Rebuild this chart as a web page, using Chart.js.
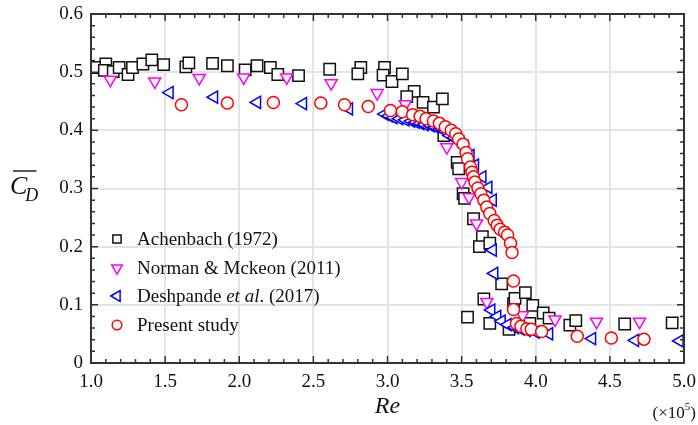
<!DOCTYPE html>
<html>
<head>
<meta charset="utf-8">
<script src="https://cdn.jsdelivr.net/npm/chart.js@4.4.0/dist/chart.umd.min.js"></script>
<style>
  body { margin: 0; background: #fff; }
</style>
</head>
<body>
<canvas id="cdChart" width="698" height="425"></canvas>
<script>
// series names (legend)
const seriesNames = ['Achenbach (1972)', 'Norman & Mckeon (2011)', 'Deshpande et al. (2017)', 'Present study'];

// Achenbach (1972)
const reAchenbach = [1.04, 1.10, 1.09, 1.15, 1.19, 1.25, 1.28, 1.35, 1.41, 1.49, 1.64, 1.66, 1.82, 1.92, 2.04, 2.12, 2.21, 2.26, 2.40,
    2.61, 2.82, 2.80, 2.98, 2.97, 3.03, 3.10, 3.18, 3.13, 3.24, 3.31, 3.37, 3.38, 3.47, 3.48, 3.51, 3.52, 3.58, 3.64, 3.62, 3.69,
    3.77, 3.54, 3.69, 3.65, 3.82, 3.85, 3.86, 3.93, 3.98, 4.05, 4.09, 3.96, 4.23, 4.27, 4.60, 4.92];
const cdAchenbach = [0.508, 0.514, 0.503, 0.501, 0.508, 0.496, 0.508, 0.514, 0.521, 0.513, 0.509, 0.516, 0.515, 0.511, 0.504, 0.511, 0.508, 0.496, 0.494,
    0.505, 0.508, 0.497, 0.508, 0.495, 0.484, 0.497, 0.467, 0.458, 0.448, 0.440, 0.454, 0.391, 0.345, 0.334, 0.291, 0.283, 0.248, 0.217, 0.200, 0.206,
    0.136, 0.079, 0.068, 0.110, 0.058, 0.102, 0.111, 0.121, 0.099, 0.086, 0.077, 0.068, 0.065, 0.073, 0.067, 0.069];

// Norman & Mckeon (2011)
const reNorman = [1.13, 1.43, 1.73, 2.03, 2.32, 2.62, 2.93, 3.12, 3.40, 3.50, 3.55, 3.60, 3.67, 3.91, 4.13, 4.41, 4.70];
const cdNorman = [0.487, 0.484, 0.490, 0.491, 0.491, 0.481, 0.464, 0.445, 0.371, 0.311, 0.285, 0.240, 0.105, 0.082, 0.075, 0.071, 0.071];

// Deshpande et al. (2017)
const reDeshpande = [1.53, 1.83, 2.12, 2.43, 2.74, 2.98, 3.01, 3.04, 3.08, 3.12, 3.16, 3.19, 3.22, 3.25, 3.29, 3.32, 3.36, 3.39, 3.42, 3.45,
    3.49, 3.52, 3.56, 3.59, 3.64, 3.68, 3.71, 3.71, 3.72, 3.70, 3.74, 3.77, 3.81, 3.86, 3.90, 3.94, 4.00, 4.09, 4.38, 4.67, 4.97];
const cdDeshpande = [0.465, 0.457, 0.448, 0.446, 0.437, 0.428, 0.425, 0.422, 0.420, 0.418, 0.416, 0.414, 0.412, 0.410, 0.408, 0.406, 0.403, 0.398, 0.391, 0.387,
    0.380, 0.372, 0.357, 0.340, 0.320, 0.302, 0.280, 0.194, 0.154, 0.091, 0.080, 0.072, 0.066, 0.061, 0.058, 0.056, 0.053, 0.050, 0.042, 0.039, 0.038];

// Present study
const rePresent = [1.61, 1.92, 2.23, 2.55, 2.71, 2.87, 3.02, 3.10, 3.17, 3.22, 3.26, 3.31, 3.35, 3.39, 3.43, 3.46, 3.48, 3.51, 3.53, 3.54,
    3.56, 3.57, 3.58, 3.59, 3.61, 3.63, 3.65, 3.67, 3.69, 3.72, 3.74, 3.76, 3.79, 3.81, 3.83, 3.84, 3.85, 3.85, 3.87, 3.90,
    3.94, 3.97, 4.04, 4.28, 4.51, 4.73];
const cdPresent = [0.444, 0.447, 0.448, 0.447, 0.444, 0.441, 0.434, 0.432, 0.427, 0.424, 0.420, 0.416, 0.412, 0.406, 0.400, 0.394, 0.385, 0.376, 0.362, 0.351,
    0.337, 0.328, 0.320, 0.311, 0.301, 0.291, 0.280, 0.268, 0.257, 0.245, 0.237, 0.230, 0.225, 0.220, 0.206, 0.190, 0.141, 0.092, 0.068, 0.063,
    0.059, 0.058, 0.054, 0.046, 0.043, 0.041];

// axis ticks
const xTicks = [1.0, 1.5, 2.0, 2.5, 3.0, 3.5, 4.0, 4.5, 5.0];
const yTicks = [0, 0.1, 0.2, 0.3, 0.4, 0.5, 0.6];

const toPoints = (xs, ys) => xs.map((v, i) => ({ x: v, y: ys[i] }));

const styles = [
    { color: '#111111', pointStyle: 'rect', radius: 8, rotation: 0, legendRadius: 5.8 },
    { color: '#ff00ff', pointStyle: 'triangle', radius: 7, rotation: 180, legendRadius: 6.2 },
    { color: '#0000ff', pointStyle: 'triangle', radius: 7, rotation: 270, legendRadius: 6.2 },
    { color: '#ff0000', pointStyle: 'circle', radius: 6, rotation: 0, legendRadius: 4.8 }
];

const serif = '"Liberation Serif", "Times New Roman", serif';

function drawMarker(ctx, st, r, x, y) {
    ctx.save();
    ctx.translate(x, y);
    ctx.rotate(st.rotation * Math.PI / 180);
    ctx.beginPath();
    if (st.pointStyle === 'rect') {
        const s = r * Math.SQRT1_2;
        ctx.rect(-s, -s, 2 * s, 2 * s);
    } else if (st.pointStyle === 'triangle') {
        ctx.moveTo(0, -r);
        ctx.lineTo(r * Math.sin(Math.PI * 2 / 3), r * 0.5);
        ctx.lineTo(-r * Math.sin(Math.PI * 2 / 3), r * 0.5);
        ctx.closePath();
    } else {
        ctx.arc(0, 0, r, 0, Math.PI * 2);
    }
    ctx.fillStyle = '#fff';
    ctx.fill();
    ctx.strokeStyle = st.color;
    ctx.lineWidth = 1.5;
    ctx.stroke();
    ctx.restore();
}

const frameAndLabels = {
    id: 'frameAndLabels',
    afterDraw(chart) {
        const { ctx, chartArea: a, scales: { x, y } } = chart;
        ctx.save();

        // inward ticks on all four sides
        ctx.strokeStyle = '#333';
        ctx.lineWidth = 1.5;
        ctx.beginPath();
        for (let i = 0; i <= 40; i++) {
            const px = x.getPixelForValue(1 + i * 0.1);
            const len = i % 5 === 0 ? 7 : 4;
            ctx.moveTo(px, a.bottom); ctx.lineTo(px, a.bottom - len);
            ctx.moveTo(px, a.top); ctx.lineTo(px, a.top + len);
        }
        for (let i = 0; i <= 30; i++) {
            const py = y.getPixelForValue(i * 0.02);
            const len = i % 5 === 0 ? 7 : 4;
            ctx.moveTo(a.left, py); ctx.lineTo(a.left + len, py);
            ctx.moveTo(a.right, py); ctx.lineTo(a.right - len, py);
        }
        ctx.stroke();
        ctx.lineWidth = 2;
        ctx.strokeRect(a.left, a.top, a.right - a.left, a.bottom - a.top);

        // y title: overline C_D
        ctx.fillStyle = '#111';
        ctx.textBaseline = 'alphabetic';
        ctx.textAlign = 'left';
        ctx.font = 'italic 26px ' + serif;
        ctx.fillText('C', 10, 194);
        const cw = ctx.measureText('C').width;
        ctx.font = 'italic 18px ' + serif;
        ctx.fillText('D', 8 + cw, 201);
        const dw = ctx.measureText('D').width;
        ctx.lineWidth = 1.4;
        ctx.strokeStyle = '#111';
        ctx.beginPath();
        ctx.moveTo(13, 171); ctx.lineTo(8 + cw + dw - 2, 171);
        ctx.stroke();

        // x title
        ctx.textAlign = 'center';
        ctx.font = 'italic 24px ' + serif;
        ctx.fillText('Re', (a.left + a.right) / 2, 413);

        // (x10^5)
        ctx.textAlign = 'left';
        ctx.font = '17px ' + serif;
        const p1 = '(\u00d710', p2 = ')';
        const w1 = ctx.measureText(p1).width;
        ctx.font = '11px ' + serif;
        const ws = ctx.measureText('5').width;
        ctx.font = '17px ' + serif;
        const w2 = ctx.measureText(p2).width;
        let sx = 696 - (w1 + ws + w2);
        ctx.fillText(p1, sx, 418);
        ctx.font = '11px ' + serif;
        ctx.fillText('5', sx + w1, 410);
        ctx.font = '17px ' + serif;
        ctx.fillText(p2, sx + w1 + ws, 418);

        // legend
        const legendY = [239, 268, 296, 325];
        ctx.textBaseline = 'middle';
        seriesNames.forEach((name, i) => {
            drawMarker(ctx, styles[i], styles[i].legendRadius, 117, legendY[i]);
            ctx.fillStyle = '#111';
            let tx = 137;
            const parts = name.includes('et al.')
                ? [[name.split('et al.')[0], false], ['et al', true], ['.' + name.split('et al.')[1], false]]
                : [[name, false]];
            parts.forEach(([t, it]) => {
                ctx.font = (it ? 'italic ' : '') + '19px ' + serif;
                ctx.fillText(t, tx, legendY[i] + 1);
                tx += ctx.measureText(t).width;
            });
        });
        ctx.restore();
    }
};

const allSeries = [
    toPoints(reAchenbach, cdAchenbach),
    toPoints(reNorman, cdNorman),
    toPoints(reDeshpande, cdDeshpande),
    toPoints(rePresent, cdPresent)
];

const datasets = allSeries.map((pts, i) => ({
    label: seriesNames[i],
    data: pts,
    showLine: false,
    pointStyle: styles[i].pointStyle,
    pointRadius: styles[i].radius,
    pointRotation: styles[i].rotation,
    pointBorderColor: styles[i].color,
    pointBackgroundColor: '#fff',
    pointBorderWidth: 1.5,
    order: 4 - i
}));

new Chart(document.getElementById('cdChart'), {
    type: 'scatter',
    data: { datasets: datasets },
    options: {
        responsive: false,
        animation: false,
        layout: { padding: { top: 14, right: 14, left: 0, bottom: 0 } },
        plugins: { legend: { display: false }, tooltip: { enabled: false } },
        scales: {
            x: {
                type: 'linear', min: 1, max: 5,
                afterFit: (s) => { s.height = 62; s.paddingLeft = 0; s.paddingRight = 0; },
                afterBuildTicks: (s) => { s.ticks = xTicks.map(v => ({ value: v })); },
                grid: { color: '#e4e4e4', lineWidth: 2, drawTicks: false },
                border: { display: false },
                ticks: {
                    padding: 8, color: '#111',
                    font: { family: serif, size: 19 },
                    callback: (v) => Number(v).toFixed(1)
                }
            },
            y: {
                type: 'linear', min: 0, max: 0.6,
                afterFit: (s) => { s.width = 91; s.paddingTop = 0; s.paddingBottom = 0; },
                afterBuildTicks: (s) => { s.ticks = yTicks.map(v => ({ value: v })); },
                grid: { color: '#e4e4e4', lineWidth: 2, drawTicks: false },
                border: { display: false },
                ticks: {
                    padding: 8, color: '#111',
                    font: { family: serif, size: 19 },
                    callback: (v) => v === 0 ? '0' : Number(v).toFixed(1)
                }
            }
        }
    },
    plugins: [frameAndLabels]
});
</script>
</body>
</html>
